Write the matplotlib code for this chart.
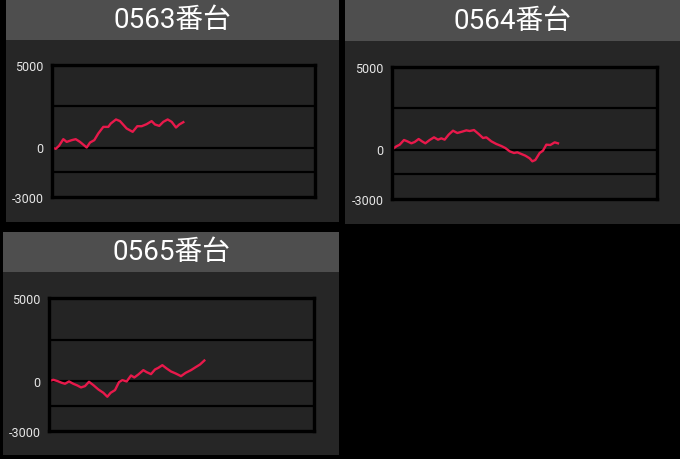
import matplotlib
matplotlib.use("Agg")
import matplotlib.pyplot as plt
from matplotlib.patches import Rectangle

plt.rcParams['font.family'] = ['Roboto', 'Noto Sans CJK JP', 'DejaVu Sans']

W, H = 680, 460

titles = ["0563番台", "0564番台", "0565番台"]

games_0563 = [0, 141, 266, 430, 559, 749, 901, 1065, 1319, 1445, 1608, 1760, 1951, 2141,
              2232, 2433, 2585, 2839, 3068, 3243, 3409, 3599, 3789, 3915, 4079, 4232,
              4398, 4551, 4715, 4841, 4993]
diff_0563 = [0, -80, 100, 505, 340, 445, 505, 340, 0, 300, 445, 850, 1250, 1250, 1450,
             1700, 1600, 1150, 950, 1290, 1290, 1415, 1600, 1395, 1310, 1555, 1700, 1555,
             1210, 1395, 1535]

games_0564 = [0, 164, 289, 453, 579, 730, 855, 1006, 1132, 1258, 1421, 1585, 1736, 1862,
              1987, 2138, 2302, 2465, 2642, 2805, 2931, 3094, 3270, 3434, 3560, 3748,
              3937, 4126, 4277, 4440, 4604, 4730, 4881, 5032, 5195, 5296, 5409, 5572,
              5698, 5824, 5975, 6138, 6264]
diff_0564 = [0, 190, 290, 575, 495, 375, 455, 636, 495, 375, 575, 737, 596, 677, 596,
             900, 1140, 1000, 1080, 1160, 1120, 1180, 940, 697, 737, 495, 333, 212, 90,
             -111, -212, -172, -273, -374, -535, -717, -636, -212, -70, 293, 273, 434, 374]

games_0565 = [0, 164, 327, 478, 604, 755, 918, 1069, 1208, 1358, 1509, 1673, 1862, 2050,
              2201, 2327, 2491, 2642, 2767, 2931, 3094, 3220, 3371, 3560, 3686, 3849,
              4000, 4126, 4277, 4440, 4604, 4780, 4981, 5157, 5358, 5535, 5698, 5862]
diff_0565 = [0, 80, 0, -100, -160, -20, -160, -260, -380, -300, -40, -240, -500, -700,
             -940, -700, -540, -60, 60, -20, 340, 220, 400, 660, 540, 420, 700, 800, 960,
             760, 580, 460, 300, 500, 660, 840, 1000, 1240]

y_ticks = [5000, 0, -3000]
grid_lines = [2500, 0, -1500]

series = [(games_0563, diff_0563), (games_0564, diff_0564), (games_0565, diff_0565)]

# panel boxes in pixels: (left, top, right, bottom, title_bottom), plot area (l, t, r, b)
panels = [(6, 1, 339, 223, 41), (345, 1, 680, 225, 42), (3, 233, 339, 456, 273)]
plots = [(52, 66, 315, 198), (392, 68, 657, 200), (49, 299, 314, 432)]


def frac(l, t, r, b):
    return [l / W, 1 - b / H, (r - l) / W, (b - t) / H]


fig = plt.figure(figsize=(W / 100, H / 100), dpi=100, facecolor="black")

for (l, t, r, b, tb), (pl, pt, pr, pb), title, (gx, gy) in zip(panels, plots, titles, series):
    x0, y0, w, h = frac(l, t, r, b)
    fig.patches.append(Rectangle((x0, y0), w, h, transform=fig.transFigure,
                                 facecolor="#262626", edgecolor="none", zorder=-2))
    x0, y0, w, h = frac(l, t, r, tb)
    fig.patches.append(Rectangle((x0, y0), w, h, transform=fig.transFigure,
                                 facecolor="#4e4e4e", edgecolor="none", zorder=-1))
    fig.text((l + r) / 2 / W, 1 - (t + tb) / 2 / H, title, color="white",
             fontsize=20, ha="center", va="center")

    ax = fig.add_axes(frac(pl, pt, pr, pb))
    ax.set_zorder(1)
    ax.set_facecolor("#242424")
    for g in grid_lines:
        ax.axhline(g, color="black", lw=1.6, zorder=1)
    ax.plot(gx, gy, color="#e8194b", lw=1.7, zorder=2)
    ax.set_xlim(0, 10000)
    ax.set_ylim(-3000, 5000)
    ax.set_xticks([])
    ax.set_yticks(y_ticks)
    ax.set_yticklabels([str(v) for v in y_ticks])
    ax.tick_params(axis="y", length=0, pad=6, labelsize=9, labelcolor="#e6e6e6")
    for s in ax.spines.values():
        s.set_color("black")
        s.set_linewidth(2.4)

fig.savefig("out.png", dpi=100, facecolor="black")
